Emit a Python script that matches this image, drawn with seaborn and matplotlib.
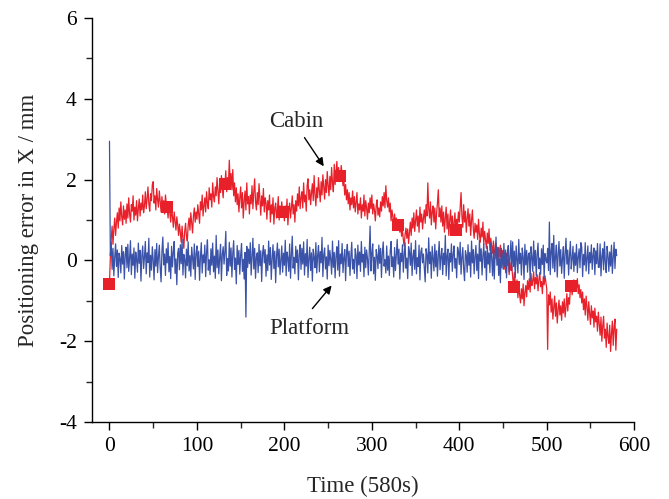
#positioning error of cabin and platform over a 580 s run
import matplotlib
matplotlib.use("Agg")
import matplotlib.pyplot as plt
from matplotlib.ticker import MultipleLocator
import seaborn as sns
import numpy as np
import pandas as pd

# sampled every 1 s, 0..580 s (20 samples per row)
time_s = np.arange(0, 581)

cabin_err = [
    -0.58, 0.10, 0.52, 0.85, 0.40, 0.78, 1.05, 0.62, 0.95, 1.18, 0.80, 1.30, 0.98, 1.45, 1.08, 0.88, 1.35, 1.02, 1.25, 0.92,
    1.40, 1.05, 1.55, 1.15, 0.95, 1.38, 1.22, 1.60, 1.00, 1.32, 1.12, 1.48, 0.98, 1.28, 1.52, 1.10, 1.42, 1.25, 1.62, 1.18,
    1.35, 1.70, 1.28, 1.52, 1.82, 1.40, 1.22, 1.65, 1.48, 1.88, 1.95, 1.42, 1.60, 1.25, 1.78, 1.50, 1.32, 1.72, 1.45, 1.20,
    1.58, 1.30, 1.48, 1.15, 1.62, 1.40, 1.32, 1.05, 1.42, 1.18, 0.95, 1.28, 1.10, 0.82, 1.20, 0.98, 0.75, 1.08, 0.88, 0.62,
    0.90, 0.70, 0.45, 0.85, 0.55, 0.30, 0.72, 0.92, 0.60, 0.48, 0.88, 1.05, 0.75, 1.18, 0.92, 0.68, 1.10, 1.30, 0.95, 1.20,
    1.02, 1.38, 1.15, 0.92, 1.45, 1.25, 1.62, 1.10, 1.35, 1.55, 1.20, 1.70, 1.42, 1.28, 1.80, 1.50, 1.65, 1.32, 1.92, 1.58,
    1.45, 1.82, 1.60, 2.05, 1.72, 1.40, 1.90, 1.68, 2.10, 1.78, 1.55, 1.98, 1.88, 2.22, 1.70, 2.05, 1.85, 2.48, 1.95, 2.15,
    1.75, 2.25, 1.60, 1.92, 1.45, 1.80, 1.38, 1.65, 1.20, 1.55, 1.82, 1.30, 1.68, 1.05, 1.48, 1.72, 1.25, 1.92, 1.40, 1.58,
    1.15, 1.62, 1.40, 1.85, 1.28, 1.70, 2.02, 1.45, 1.25, 1.68, 1.38, 1.90, 1.52, 1.12, 1.60, 1.35, 1.78, 1.20, 1.55, 1.42,
    1.02, 1.48, 1.25, 1.62, 0.95, 1.38, 1.15, 1.55, 0.90, 1.30, 1.42, 1.05, 1.25, 1.58, 1.00, 1.35, 1.12, 1.45, 1.20, 1.28,
    0.98, 1.35, 1.10, 1.52, 0.88, 1.25, 1.42, 1.05, 1.30, 1.60, 1.15, 1.38, 0.95, 1.48, 1.22, 1.65, 1.35, 1.82, 1.28, 1.55,
    1.70, 1.30, 1.92, 1.45, 1.62, 1.22, 1.85, 2.02, 1.50, 1.75, 1.38, 1.68, 1.90, 1.48, 2.10, 1.62, 1.35, 1.80, 1.55, 2.05,
    1.72, 1.45, 1.95, 1.62, 2.12, 1.80, 1.52, 2.00, 1.68, 2.20, 1.85, 1.60, 2.08, 1.75, 2.30, 1.92, 1.70, 2.38, 1.88, 2.15,
    2.45, 2.02, 2.30, 1.95, 2.08, 2.35, 2.12, 1.85, 2.00, 1.62, 1.88, 1.50, 1.75, 1.40, 1.68, 1.25, 1.55, 1.38, 1.72, 1.30,
    1.58, 1.20, 1.45, 1.68, 1.15, 1.40, 1.25, 1.55, 1.05, 1.38, 1.22, 1.62, 1.10, 1.48, 1.30, 1.02, 1.42, 1.18, 1.55, 1.28,
    1.62, 1.15, 1.40, 1.25, 0.98, 1.35, 1.50, 1.12, 1.30, 1.08, 1.45, 1.22, 1.58, 1.35, 1.68, 1.30, 1.85, 1.48, 1.32, 1.55,
    1.20, 1.42, 0.98, 1.25, 1.08, 0.85, 1.15, 0.92, 1.05, 0.78, 0.87, 0.95, 0.70, 0.88, 0.60, 0.75, 0.52, 0.35, 0.65, 0.80,
    0.55, 0.78, 0.42, 0.68, 0.95, 0.62, 1.05, 0.80, 1.18, 0.72, 0.98, 1.25, 0.85, 1.10, 0.70, 1.32, 0.95, 1.15, 0.78, 1.05,
    1.25, 0.92, 1.38, 1.10, 1.92, 1.28, 1.05, 1.45, 0.88, 1.20, 1.35, 0.95, 1.30, 0.78, 1.15, 1.42, 1.75, 1.08, 1.30, 0.95,
    1.35, 0.85, 1.20, 0.70, 1.05, 1.32, 0.78, 1.15, 0.62, 0.98, 1.25, 0.82, 1.10, 0.68, 0.92, 1.18, 0.75, 1.02, 0.88, 1.20,
    0.95, 1.30, 1.68, 1.10, 0.82, 1.38, 0.95, 1.22, 0.70, 1.05, 1.28, 0.85, 1.15, 0.62, 1.00, 1.25, 0.78, 0.55, 0.92, 0.70,
    0.88, 0.52, 1.02, 0.65, 0.45, 0.80, 0.58, 0.95, 0.40, 0.72, 0.50, 0.30, 0.68, 0.42, 0.78, 0.25, 0.55, 0.35, 0.18, 0.48,
    0.28, 0.05, 0.42, 0.15, -0.10, 0.32, 0.08, 0.38, -0.18, 0.12, 0.25, -0.22, 0.05, -0.30, 0.18, -0.12, 0.02, -0.35, -0.05, -0.25,
    -0.15, -0.40, -0.65, -0.30, -0.55, -0.75, -0.48, -0.92, -0.62, -0.85, -1.05, -0.70, -0.95, -0.58, -1.12, -0.80, -0.62, -0.90, -0.50, -0.72,
    -0.45, -0.78, -0.32, -0.62, -0.50, -0.28, -0.70, -0.42, -0.58, -0.35, -0.75, -0.48, -0.30, -0.65, -0.52, -0.82, -0.40, -0.60, -0.38, -0.55,
    -0.70, -2.20, -0.85, -1.10, -0.78, -1.28, -0.95, -1.45, -1.15, -0.88, -1.38, -1.05, -1.55, -1.22, -0.98, -1.35, -1.12, -1.48, -1.02, -1.30,
    -0.95, -1.40, -1.15, -0.82, -1.25, -0.92, -1.08, -0.70, -0.62, -0.85, -0.62, -0.48, -0.75, -0.55, -0.68, -0.45, -0.82, -0.60, -0.92, -0.72,
    -1.05, -0.78, -1.22, -0.95, -1.35, -0.88, -1.15, -1.48, -1.02, -1.30, -1.58, -1.12, -1.42, -1.25, -1.65, -1.18, -1.52, -1.38, -1.75, -1.28,
    -1.55, -1.85, -1.40, -2.00, -1.62, -1.38, -1.92, -1.70, -2.15, -1.55, -1.88, -2.05, -1.60, -2.25, -1.82, -1.50, -2.10, -1.65, -1.45, -2.22,
    -1.70,
]

platform_err = [
    2.95, 0.12, 0.45, -0.22, 0.30, -0.38, 0.08, 0.41, -0.15, 0.26, -0.42, 0.18, 0.05, -0.31, 0.37, -0.09, 0.22, -0.46, 0.14, 0.33,
    -0.18, 0.40, -0.27, 0.06, 0.49, -0.35, 0.16, -0.12, 0.31, -0.44, 0.21, 0.02, -0.29, 0.43, -0.07, 0.25, -0.51, 0.11, 0.36, -0.20,
    0.08, 0.47, -0.33, 0.19, -0.05, 0.55, -0.41, 0.13, -0.24, 0.34, 0.01, -0.48, 0.27, -0.14, 0.42, -0.30, 0.09, 0.38, -0.19, -0.53,
    0.24, 0.58, -0.11, 0.16, -0.37, 0.29, -0.06, 0.44, -0.28, 0.10, -0.45, 0.35, -0.16, 0.21, 0.47, -0.32, 0.04, -0.60, 0.18, 0.30,
    -0.23, 0.39, -0.08, 0.52, -0.36, 0.15, 0.03, -0.43, 0.28, -0.13, 0.46, -0.26, 0.12, -0.39, 0.33, 0.07, -0.21, 0.41, -0.47, 0.17,
    0.36, -0.15, 0.23, -0.49, 0.09, 0.44, -0.31, 0.14, -0.06, 0.38, -0.40, 0.20, 0.51, -0.24, 0.02, -0.35, 0.29, -0.12, 0.43, -0.28,
    0.11, -0.44, 0.62, -0.18, 0.26, -0.33, 0.07, 0.40, -0.50, 0.15, 0.34, -0.09, 0.22, 0.72, -0.37, 0.05, -0.26, 0.45, -0.14, 0.31,
    -0.41, 0.18, 0.49, -0.22, 0.06, -0.58, 0.37, -0.10, 0.25, -0.34, 0.13, 0.42, -0.27, 0.03, -0.46, 0.20, -1.40, 0.35, -0.17, 0.28,
    -0.08, 0.44, -0.36, 0.12, 0.55, -0.21, 0.30, -0.44, 0.09, 0.19, -0.30, 0.40, -0.13, 0.24, -0.52, 0.16, 0.37, -0.06, 0.27, -0.39,
    0.14, -0.25, 0.48, -0.11, 0.32, -0.47, 0.05, 0.39, -0.20, 0.23, -0.55, 0.10, 0.43, -0.16, 0.28, -0.35, 0.01, 0.36, -0.29, 0.18,
    -0.12, 0.50, -0.38, 0.21, 0.06, -0.27, 0.41, -0.44, 0.15, 0.60, -0.19, 0.08, -0.33, 0.35, -0.05, 0.26, -0.48, 0.13, 0.39, -0.22,
    0.30, -0.09, 0.46, -0.36, 0.17, -0.14, 0.52, -0.42, 0.04, 0.33, -0.25, 0.19, -0.51, 0.28, 0.07, -0.18, 0.44, -0.31, 0.12, 0.37,
    -0.28, 0.22, -0.06, 0.57, -0.40, 0.14, 0.31, -0.21, 0.09, -0.46, 0.38, -0.13, 0.25, 0.02, -0.34, 0.48, -0.17, 0.20, -0.43, 0.11,
    0.34, -0.24, 0.49, -0.39, 0.16, -0.08, 0.42, -0.30, 0.06, 0.27, -0.50, 0.18, 0.40, -0.15, 0.23, -0.37, 0.10, 0.45, -0.21, 0.03,
    -0.32, 0.29, 0.13, -0.45, 0.38, -0.11, 0.21, -0.27, 0.47, -0.04, 0.15, -0.40, 0.33, -0.18, 0.26, 0.05, -0.36, 0.20, 0.85, -0.26,
    0.17, 0.41, -0.33, 0.08, -0.49, 0.27, 0.12, -0.20, 0.38, -0.07, 0.30, -0.42, 0.19, 0.46, -0.14, 0.02, -0.31, 0.36, -0.24, 0.11,
    -0.37, 0.23, 0.47, -0.15, 0.09, -0.41, 0.32, -0.25, 0.15, 0.52, -0.09, 0.28, -0.46, 0.18, -0.03, 0.39, -0.29, 0.13, 0.44, -0.19,
    0.06, -0.45, 0.34, 0.20, -0.12, 0.43, -0.37, 0.10, 0.26, -0.22, 0.49, -0.33, 0.07, -0.15, 0.38, -0.48, 0.21, 0.31, -0.06, 0.16,
    -0.20, -0.53, 0.29, 0.14, -0.31, 0.56, -0.08, 0.21, -0.44, 0.35, 0.04, -0.26, 0.40, -0.16, 0.24, -0.39, 0.12, 0.47, -0.23, 0.09,
    0.30, -0.35, 0.18, -0.10, 0.62, -0.38, 0.12, 0.28, -0.47, 0.18, -0.04, 0.41, -0.27, 0.15, 0.36, -0.19, 0.05, -0.43, 0.33, 0.22,
    -0.10, 0.45, -0.34, 0.07, 0.32, -0.22, -0.50, 0.24, 0.13, -0.29, 0.39, -0.12, 0.20, -0.41, 0.48, -0.06, 0.27, -0.33, 0.10, 0.37,
    -0.25, 0.16, -0.45, 0.50, -0.02, 0.29, -0.36, 0.11, 0.41, -0.18, 0.23, -0.49, 0.35, -0.09, 0.19, -0.30, 0.44, 0.06, -0.38, 0.27,
    -0.46, 0.20, 0.58, -0.12, 0.33, -0.37, 0.05, -0.55, 0.30, 0.11, -0.21, 0.42, -0.14, 0.26, -0.43, 0.15, 0.37, -0.28, 0.08, 0.49,
    -0.24, 0.46, -0.15, 0.23, -0.42, 0.36, 0.02, -0.31, 0.52, -0.08, 0.18, -0.36, 0.31, 0.09, -0.47, 0.40, -0.11, 0.25, -0.29, 0.14,
    0.19, -0.50, 0.34, 0.08, -0.27, 0.48, -0.13, 0.25, -0.39, 0.14, 0.43, -0.20, 0.06, -0.34, 0.29, -0.10, 0.38, -0.44, 0.17, 0.02,
    -0.06, 0.30, -0.25, 0.95, -0.35, 0.22, 0.42, -0.19, 0.62, -0.28, 0.10, 0.38, -0.41, 0.15, 0.47, -0.14, 0.27, -0.32, 0.05, 0.34,
    -0.44, 0.17, 0.55, -0.09, 0.26, -0.36, 0.12, 0.47, -0.21, 0.04, 0.35, -0.27, 0.19, -0.12, 0.40, -0.30, 0.08, 0.29, -0.18, 0.44,
    0.33, -0.40, 0.15, -0.11, 0.44, -0.26, 0.07, 0.36, -0.33, 0.20, -0.06, 0.39, -0.22, 0.13, 0.31, -0.35, 0.24, -0.08, 0.42, -0.17,
    -0.17, 0.41, -0.38, 0.10, 0.29, -0.23, 0.46, -0.05, -0.30, 0.35, 0.12, -0.27, 0.21, -0.14, 0.38, -0.32, 0.09, 0.45, -0.20, 0.28,
    0.12,
]

df = pd.DataFrame({"time": time_s, "cabin": cabin_err, "platform": platform_err})

sns.set_style("ticks")
plt.rcParams["font.family"] = ["Liberation Serif", "DejaVu Serif"]
plt.rcParams["axes.unicode_minus"] = False

fig = plt.figure(figsize=(6.69, 4.99), dpi=100)
ax = fig.add_axes([0.1375, 0.154, 0.8105, 0.81])

red = "#e8202a"
blue = "#3a52a8"

#cabin first so the platform trace sits on top
sns.lineplot(data=df, x="time", y="cabin", ax=ax, color=red, lw=0.9,
             estimator=None, sort=False, marker="s", markersize=8.5,
             markevery=66, markeredgewidth=0, markerfacecolor=red)
sns.lineplot(data=df, x="time", y="platform", ax=ax, color=blue, lw=0.9,
             estimator=None, sort=False)

ax.set_xlim(-20, 600)
ax.set_ylim(-4, 6)
ax.xaxis.set_major_locator(MultipleLocator(100))
ax.xaxis.set_minor_locator(MultipleLocator(50))
ax.yaxis.set_major_locator(MultipleLocator(2))
ax.yaxis.set_minor_locator(MultipleLocator(1))
ax.tick_params(which="major", direction="out", length=6, width=1, labelsize=15.5,
               colors="black", pad=5)
ax.tick_params(which="minor", direction="out", length=4, width=1)
for s in ["left", "bottom"]:
    ax.spines[s].set_linewidth(1)
    ax.spines[s].set_color("black")
sns.despine(ax=ax)

ax.set_xlabel("Time (580s)", fontsize=16.5, labelpad=14)
ax.set_ylabel("Positioning error in X / mm", fontsize=16.5, labelpad=14)

#labels and their arrows
ax.text(213, 3.44, "Cabin", fontsize=16.5, ha="center", va="center")
ax.annotate("", xy=(245, 2.33), xytext=(223, 3.04),
            arrowprops=dict(arrowstyle="-|>", color="black", lw=1,
                            shrinkA=0, shrinkB=0, mutation_scale=12))
ax.text(229, -1.68, "Platform", fontsize=16.5, ha="center", va="center")
ax.annotate("", xy=(254, -0.62), xytext=(232, -1.19),
            arrowprops=dict(arrowstyle="-|>", color="black", lw=1,
                            shrinkA=0, shrinkB=0, mutation_scale=12))

fig.savefig("out.png", dpi=100)
